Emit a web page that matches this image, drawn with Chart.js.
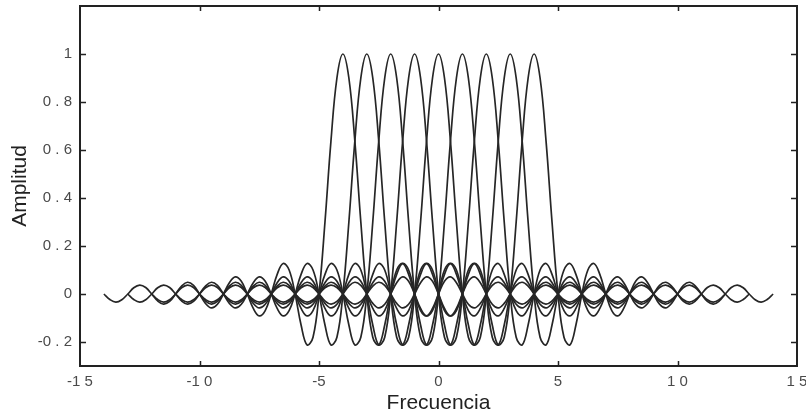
<!DOCTYPE html>
<html>
<head>
<meta charset="utf-8">
<script src="https://cdn.jsdelivr.net/npm/chart.js@4/dist/chart.umd.min.js"></script>
<style>
  html, body { margin: 0; padding: 0; background: #fff; }
  #wrap { width: 806px; height: 417px; }
</style>
</head>
<body>
<div id="wrap"><canvas id="spec"></canvas></div>
<script>
// sub-carrier centres (frequency units)
const centers = [-4, -3, -2, -1, 0, 1, 2, 3, 4];

// one sub-carrier's spectrum shape, read at offsets -10 .. 10 in steps of 0.25
const pulseStep = 0.25;
const pulse = [
   0.000, -0.023, -0.034, -0.024,  0.000,  0.026,  0.037,  0.027,
   0.000, -0.029, -0.042, -0.031,  0.000,  0.033,  0.049,  0.036,
   0.000, -0.039, -0.058, -0.043,  0.000,  0.047,  0.071,  0.053,
   0.000, -0.060, -0.091, -0.069,  0.000,  0.082,  0.127,  0.100,
   0.000, -0.129, -0.212, -0.180,  0.000,  0.300,  0.637,  0.900,
   1.000,
   0.900,  0.637,  0.300,  0.000, -0.180, -0.212, -0.129,  0.000,
   0.100,  0.127,  0.082,  0.000, -0.069, -0.091, -0.060,  0.000,
   0.053,  0.071,  0.047,  0.000, -0.043, -0.058, -0.039,  0.000,
   0.036,  0.049,  0.033,  0.000, -0.031, -0.042, -0.029,  0.000,
   0.027,  0.037,  0.026,  0.000, -0.024, -0.034, -0.023,  0.000
];

// axis ticks
const xTicks = [-15, -10, -5, 0, 5, 10, 15];
const yTicks = [-0.2, 0, 0.2, 0.4, 0.6, 0.8, 1];

const halfSpan = (pulse.length - 1) / 2 * pulseStep;

// spaced-out digits like the original figure
const spaced = s => s.split('').join(' ').replace('- ', '-');

/* box around the plot + inward ticks on all four sides */
const boxPlugin = {
    id: 'box',
    afterDraw(chart) {
        const { ctx, chartArea: a, scales: { x, y } } = chart;
        ctx.save();
        ctx.strokeStyle = '#222';
        ctx.lineWidth = 2;
        ctx.strokeRect(a.left, a.top, a.right - a.left, a.bottom - a.top);
        ctx.lineWidth = 1.5;
        ctx.beginPath();
        xTicks.slice(1, -1).forEach(v => {
            const px = Math.round(x.getPixelForValue(v)) + 0.5;
            ctx.moveTo(px, a.bottom); ctx.lineTo(px, a.bottom - 5);
            ctx.moveTo(px, a.top);    ctx.lineTo(px, a.top + 5);
        });
        yTicks.forEach(v => {
            const py = Math.round(y.getPixelForValue(v)) + 0.5;
            ctx.moveTo(a.left, py);  ctx.lineTo(a.left + 6, py);
            ctx.moveTo(a.right, py); ctx.lineTo(a.right - 6, py);
        });
        ctx.stroke();
        ctx.restore();
    }
};

const datasets = centers.map(c => ({
    data: pulse.map((v, i) => ({ x: c - halfSpan + i * pulseStep, y: v })),
    borderColor: '#262626',
    borderWidth: 1.7,
    pointRadius: 0,
    tension: 0.4,
    fill: false
}));

const tickFont = { family: 'Liberation Sans, Arial', size: 15 };
const titleFont = { family: 'Liberation Sans, Arial', size: 21, lineHeight: 1.2 };
const noGrid = { display: false, drawTicks: false, tickLength: 0 };

new Chart(document.getElementById('spec'), {
    type: 'line',
    data: { datasets },
    options: {
        responsive: true, maintainAspectRatio: false,
        animation: false,
        layout: { autoPadding: false, padding: { top: 6, right: 9, left: 0, bottom: 0 } },
        plugins: { legend: { display: false }, tooltip: { enabled: false } },
        scales: {
            x: {
                type: 'linear', min: -15, max: 15,
                afterBuildTicks: s => { s.ticks = xTicks.map(v => ({ value: v })); },
                afterFit: s => { s.height = 51; s.paddingLeft = 0; s.paddingRight = 0; },
                grid: noGrid, border: { display: false },
                ticks: {
                    color: '#4a4a4a', padding: 7, maxRotation: 0,
                    font: tickFont,
                    callback: v => spaced(String(v))
                },
                title: {
                    display: true, text: 'Frecuencia', color: '#222',
                    font: titleFont,
                    padding: { top: 0, bottom: 1 }
                }
            },
            y: {
                type: 'linear', min: -0.3, max: 1.2,
                afterBuildTicks: s => { s.ticks = yTicks.map(v => ({ value: v })); },
                afterFit: s => { s.width = 80; s.paddingTop = 0; s.paddingBottom = 0; },
                grid: noGrid, border: { display: false },
                ticks: {
                    color: '#4a4a4a', padding: 8,
                    font: tickFont,
                    callback: v => spaced(String(Math.round(v * 10) / 10))
                },
                title: {
                    display: true, text: 'Amplitud', color: '#222',
                    font: titleFont,
                    padding: { top: 8, bottom: 0 }
                }
            }
        }
    },
    plugins: [boxPlugin]
});
</script>
</body>
</html>
